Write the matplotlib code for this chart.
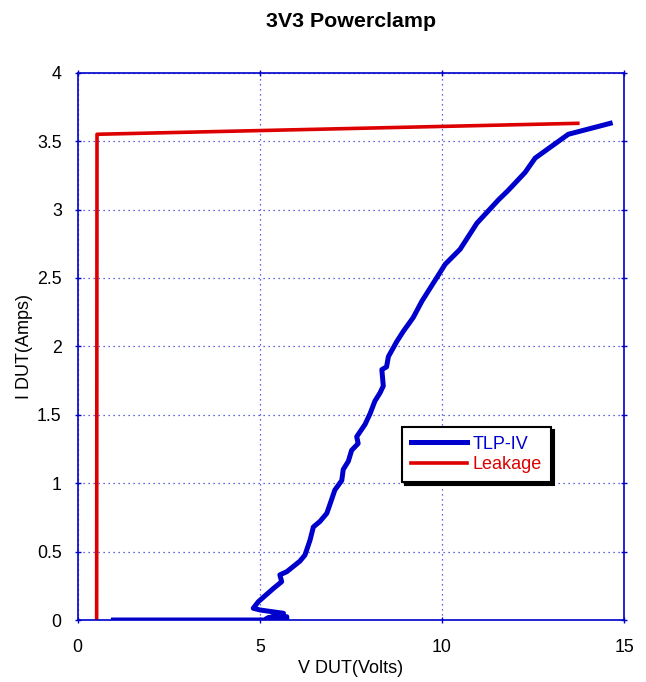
import numpy as np
import matplotlib.pyplot as plt
from matplotlib.ticker import FormatStrFormatter

plt.rcParams['font.family'] = ['Liberation Sans', 'DejaVu Sans']

# TLP-IV curve (V, I)
tlp_v = [0.98, 5.74, 5.74, 5.19, 5.65, 5.01, 4.82, 4.96, 5.37, 5.60, 5.55, 5.74,
         6.10, 6.24, 6.38, 6.47, 6.65, 6.84, 6.97, 7.06, 7.25, 7.29, 7.43, 7.52,
         7.70, 7.66, 7.89, 8.03, 8.16, 8.30, 8.39, 8.35, 8.48, 8.53, 8.76, 8.94,
         9.21, 9.45, 10.09, 10.50, 10.96, 11.55, 11.82, 12.28, 12.56, 13.47, 14.62]
tlp_i = [0.0, 0.0, 0.024, 0.012, 0.049, 0.073, 0.086, 0.134, 0.23, 0.28, 0.33, 0.353,
         0.43, 0.475, 0.585, 0.68, 0.72, 0.78, 0.88, 0.95, 1.02, 1.10, 1.16, 1.24,
         1.29, 1.34, 1.43, 1.51, 1.60, 1.66, 1.71, 1.83, 1.85, 1.925, 2.035, 2.11,
         2.21, 2.33, 2.60, 2.71, 2.90, 3.07, 3.14, 3.27, 3.376, 3.55, 3.63]

# Leakage curve
leak_v = [0.52, 0.52, 0.53, 13.73]
leak_i = [0.0, 0.02, 3.55, 3.63]

fig = plt.figure(figsize=(6.46, 6.82), dpi=100)
ax = fig.add_axes([0.1203, 0.0909, 0.8457, 0.8025])

ax.plot(tlp_v, tlp_i, color='#0000cc', lw=3.6, solid_joinstyle='round', label='TLP-IV')
ax.plot(leak_v, leak_i, color='#dd0000', lw=2.6, label='Leakage')

ax.set_xlim(0, 15)
ax.set_ylim(0, 4)
ax.set_xticks([0, 5, 10, 15])
ax.set_yticks(np.arange(0, 4.01, 0.5))
ax.yaxis.set_major_formatter(FormatStrFormatter('%g'))
ax.tick_params(direction='inout', length=5, width=1, color='#0000cc',
               labelsize=12.8, right=True, top=True)
ax.tick_params(axis='x', pad=11)
ax.tick_params(axis='y', pad=9)
ax.grid(True, color='#0000cc', ls=(0, (1, 3)), lw=0.9, alpha=0.8)
for s in ax.spines.values():
    s.set_color('#0000cc')
    s.set_linewidth(1.2)

ax.set_xlabel('V DUT(Volts)', fontsize=13, labelpad=3)
ax.set_ylabel('I DUT(Amps)', fontsize=13)
ax.yaxis.set_label_coords(-0.082, 0.5)
ax.set_title('3V3 Powerclamp', fontsize=15.4, fontweight='bold', pad=33)

leg = ax.legend(loc='upper left', bbox_to_anchor=(0.623, 0.3743),
                bbox_transform=fig.transFigure, borderaxespad=0,
                fancybox=False, shadow={'color': 'black', 'alpha': 1},
                edgecolor='black', fontsize=13, handlelength=3.1,
                handletextpad=0.3, labelspacing=0.2, borderpad=0.5)
leg.get_frame().set_linewidth(1.5)
for t, c in zip(leg.get_texts(), ['#0000cc', '#dd0000']):
    t.set_color(c)

fig.savefig('out.png', dpi=100)
